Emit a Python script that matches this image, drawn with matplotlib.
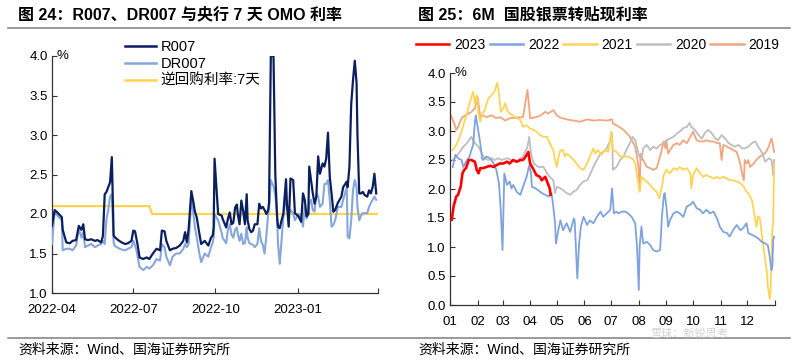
import matplotlib
matplotlib.use("Agg")
import matplotlib.pyplot as plt
from matplotlib.lines import Line2D
import pandas as pd

plt.rcParams['font.family'] = ['Liberation Sans', 'Noto Sans CJK SC', 'DejaVu Sans']
plt.rcParams['axes.unicode_minus'] = False

# ---------------- Left chart data: R007, DR007, 7-day OMO ----------------
left_dates = [
    "2022-04-01", "2022-04-04", "2022-04-07", "2022-04-12", "2022-04-13", "2022-04-17", "2022-04-21",
    "2022-04-24", "2022-04-28", "2022-05-01", "2022-05-04", "2022-05-06", "2022-05-08", "2022-05-11",
    "2022-05-15", "2022-05-19", "2022-05-22", "2022-05-26", "2022-05-28", "2022-05-30", "2022-06-01",
    "2022-06-03", "2022-06-05", "2022-06-07", "2022-06-09", "2022-06-10", "2022-06-14", "2022-06-18",
    "2022-06-22", "2022-06-25", "2022-06-29", "2022-07-01", "2022-07-03", "2022-07-05", "2022-07-06",
    "2022-07-08", "2022-07-12", "2022-07-16", "2022-07-19", "2022-07-23", "2022-07-27", "2022-07-31",
    "2022-08-02", "2022-08-05", "2022-08-07", "2022-08-11", "2022-08-14", "2022-08-18", "2022-08-22",
    "2022-08-26", "2022-08-28", "2022-08-30", "2022-09-01", "2022-09-04", "2022-09-06", "2022-09-08",
    "2022-09-10", "2022-09-13", "2022-09-15", "2022-09-19", "2022-09-23", "2022-09-26", "2022-09-28",
    "2022-09-29", "2022-09-30", "2022-10-04", "2022-10-08", "2022-10-09", "2022-10-13", "2022-10-15",
    "2022-10-17", "2022-10-19", "2022-10-21", "2022-10-23", "2022-10-25", "2022-10-26", "2022-10-28",
    "2022-10-30", "2022-11-01", "2022-11-03", "2022-11-05", "2022-11-06", "2022-11-08", "2022-11-10",
    "2022-11-12", "2022-11-14", "2022-11-17", "2022-11-19", "2022-11-21", "2022-11-23", "2022-11-25",
    "2022-11-27", "2022-11-29", "2022-11-30", "2022-12-02", "2022-12-05", "2022-12-07", "2022-12-09",
    "2022-12-10", "2022-12-12", "2022-12-14", "2022-12-16", "2022-12-19", "2022-12-20", "2022-12-22",
    "2022-12-24", "2022-12-27", "2022-12-29", "2023-01-02", "2023-01-05", "2023-01-07", "2023-01-09",
    "2023-01-11", "2023-01-13", "2023-01-14", "2023-01-16", "2023-01-18", "2023-01-20", "2023-01-22",
    "2023-01-24", "2023-01-26", "2023-01-29", "2023-01-31", "2023-02-02", "2023-02-04", "2023-02-06",
    "2023-02-08", "2023-02-10", "2023-02-12", "2023-02-15", "2023-02-19", "2023-02-21", "2023-02-25",
    "2023-02-26", "2023-02-28", "2023-03-02", "2023-03-04", "2023-03-06", "2023-03-08", "2023-03-09",
    "2023-03-11", "2023-03-13", "2023-03-15", "2023-03-17", "2023-03-20", "2023-03-22", "2023-03-24",
    "2023-03-26", "2023-03-28", "2023-03-30",
]
r007 = [
    1.85, 2.05, 2.02, 1.96, 1.80, 1.64, 1.63, 1.66, 1.67, 1.85, 1.80, 1.87, 1.68, 1.67,
    1.68, 1.66, 1.67, 1.64, 1.72, 2.25, 2.28, 2.34, 2.40, 2.72, 1.73, 1.71, 1.67, 1.64,
    1.62, 1.63, 1.66, 1.79, 1.78, 1.66, 1.60, 1.45, 1.43, 1.45, 1.43, 1.50, 1.56, 1.54,
    1.79, 1.78, 1.66, 1.54, 1.56, 1.57, 1.60, 1.66, 1.77, 1.64, 1.81, 2.29, 2.17, 2.03,
    1.96, 1.75, 1.62, 1.66, 1.60, 1.70, 1.73, 1.83, 2.70, 2.00, 1.98, 1.94, 1.83, 1.94,
    2.02, 1.87, 1.89, 2.08, 2.12, 2.00, 1.87, 2.17, 2.04, 1.87, 2.25, 1.92, 1.81, 1.77,
    1.79, 1.87, 1.87, 2.13, 2.07, 2.09, 2.05, 2.00, 2.05, 2.14, 4.00, 4.00, 2.51, 1.96,
    1.84, 1.82, 1.92, 2.00, 2.44, 2.13, 1.84, 2.45, 2.43, 2.01, 1.97, 1.90, 2.26, 2.18,
    1.97, 2.00, 2.60, 2.43, 2.26, 2.13, 2.22, 2.73, 2.51, 2.64, 2.60, 2.70, 3.03, 2.47,
    2.26, 2.03, 2.05, 2.14, 2.22, 2.34, 2.41, 2.34, 2.60, 3.39, 3.69, 3.94, 3.66, 3.00,
    2.26, 2.26, 2.28, 2.24, 2.22, 2.30, 2.26, 2.34, 2.51, 2.26,
]
dr007 = [
    1.62, 2.04, 1.98, 1.92, 1.54, 1.56, 1.56, 1.54, 1.60, 1.81, 1.70, 1.77, 1.58, 1.60,
    1.62, 1.58, 1.60, 1.62, 1.66, 1.62, 1.94, 2.05, 2.22, 2.25, 1.64, 1.60, 1.57, 1.55,
    1.54, 1.56, 1.58, 1.66, 1.60, 1.52, 1.45, 1.33, 1.29, 1.33, 1.31, 1.35, 1.43, 1.41,
    1.62, 1.58, 1.46, 1.35, 1.46, 1.50, 1.50, 1.56, 1.62, 1.58, 1.62, 2.21, 2.04, 1.83,
    1.71, 1.50, 1.39, 1.50, 1.46, 1.58, 1.64, 1.70, 2.00, 1.92, 1.76, 1.70, 1.63, 1.80,
    1.87, 1.74, 1.70, 1.80, 1.83, 1.75, 1.66, 1.75, 1.62, 1.63, 1.83, 1.70, 1.63, 1.62,
    1.61, 1.58, 1.62, 1.82, 1.66, 1.61, 1.50, 1.72, 2.00, 2.05, 2.43, 2.35, 2.23, 2.00,
    1.63, 1.37, 1.67, 1.96, 2.22, 2.10, 2.01, 2.05, 2.01, 1.92, 2.00, 1.96, 1.84, 2.09,
    1.94, 2.00, 2.13, 2.18, 2.05, 2.03, 2.26, 2.22, 2.09, 2.13, 2.38, 2.38, 2.43, 2.18,
    1.84, 1.86, 1.92, 2.09, 2.09, 2.18, 2.34, 1.71, 1.69, 1.92, 2.30, 2.43, 2.34, 2.09,
    1.92, 1.98, 2.01, 2.01, 2.01, 2.09, 2.14, 2.18, 2.22, 2.18,
]
omo_dates = ["2022-04-01", "2022-07-19", "2022-07-22", "2023-03-31"]
omo_rate = [2.10, 2.10, 2.00, 2.00]
left_ticks = ["2022-04-01", "2022-07-01", "2022-10-01", "2023-01-01", "2023-04-01"]
left_ticklabels = ["2022-04", "2022-07", "2022-10", "2023-01", ""]

# ---------------- Right chart data: 6M bill rediscount rate by year ----------------
# x = day of year (0 = Jan 1)
d2019 = [0, 4, 7, 9, 13, 17, 21, 24, 28, 31, 34, 37, 41, 47, 52, 56, 62, 67, 75, 82, 87, 90, 94,
         101, 107, 110, 116, 120, 124, 131, 139, 146, 154, 161, 168, 176, 182, 183, 187, 195, 202,
         208, 210, 212, 213, 214, 217, 221, 225, 228, 232, 236, 240, 242, 243, 245, 247, 251, 255,
         258, 262, 266, 270, 273, 277, 281, 285, 288, 292, 296, 300, 303, 305, 307, 311, 315, 318,
         322, 326, 328, 330, 331, 333, 335, 337, 341, 344, 348, 352, 355, 358, 361, 362, 364]
v2019 = [3.30, 3.16, 3.02, 3.07, 3.22, 3.27, 3.30, 3.33, 3.39, 3.59, 3.24, 3.27, 3.24, 3.27, 3.22,
         3.24, 3.18, 3.22, 3.23, 3.24, 3.71, 3.22, 3.23, 3.26, 3.33, 3.30, 3.36, 3.27, 3.23, 3.20,
         3.18, 3.16, 3.20, 3.18, 3.19, 3.18, 3.20, 3.13, 3.10, 3.02, 2.90, 2.73, 2.56, 2.33, 1.98,
         2.61, 2.50, 2.38, 2.36, 2.33, 2.36, 2.56, 2.82, 2.70, 2.84, 2.61, 2.67, 2.76, 2.79, 2.76,
         2.84, 2.79, 2.90, 2.99, 2.84, 2.82, 2.82, 2.84, 2.82, 2.82, 2.79, 2.79, 2.50, 2.76, 2.73,
         2.70, 2.67, 2.64, 2.44, 2.27, 2.15, 2.50, 2.44, 2.50, 2.38, 2.44, 2.50, 2.56, 2.59, 2.64,
         2.73, 2.87, 2.82, 2.64]

d2020 = [3, 7, 11, 15, 19, 24, 28, 32, 36, 39, 43, 47, 50, 54, 58, 64, 69, 73, 77, 82, 87, 89, 91,
         94, 99, 105, 109, 112, 116, 118, 120, 124, 127, 131, 135, 139, 142, 146, 150, 154, 157, 161,
         165, 169, 172, 176, 180, 182, 183, 187, 191, 195, 198, 202, 205, 208, 212, 215, 217, 221,
         225, 228, 232, 236, 240, 243, 247, 251, 255, 258, 262, 266, 269, 271, 275, 279, 283, 286,
         290, 294, 298, 301, 305, 309, 313, 316, 320, 324, 328, 331, 335, 339, 343, 346, 350, 354,
         358, 361, 362, 363, 364]
v2020 = [2.50, 2.56, 2.64, 2.73, 2.79, 2.90, 2.79, 2.73, 2.61, 2.53, 2.50, 2.53, 2.50, 2.53, 2.50,
         2.53, 2.50, 2.47, 2.50, 2.56, 2.73, 2.90, 2.61, 2.44, 2.38, 2.38, 2.27, 2.21, 2.15, 1.93,
         2.04, 2.01, 1.98, 1.93, 1.90, 1.96, 1.98, 2.07, 2.13, 2.15, 2.24, 2.38, 2.50, 2.61, 2.64,
         2.70, 2.84, 2.96, 2.33, 2.38, 2.50, 2.56, 2.67, 2.79, 2.90, 2.84, 2.59, 2.50, 2.70, 2.76,
         2.67, 2.73, 2.70, 2.76, 2.79, 2.84, 2.87, 2.90, 2.96, 2.99, 3.05, 3.07, 3.14, 3.07, 3.02,
         2.93, 2.87, 2.96, 3.02, 2.96, 2.87, 2.84, 2.93, 2.87, 2.79, 2.76, 2.73, 2.76, 2.70, 2.70,
         2.73, 2.79, 2.82, 2.73, 2.64, 2.47, 2.53, 2.50, 2.40, 2.24, 2.50]

d2021 = [3, 7, 11, 15, 19, 22, 26, 28, 30, 32, 34, 36, 39, 43, 47, 50, 53, 55, 57, 60, 62, 64, 67,
         71, 75, 79, 82, 86, 90, 94, 97, 101, 105, 109, 112, 116, 118, 120, 122, 124, 127, 129, 131,
         135, 139, 142, 146, 150, 154, 157, 161, 163, 166, 170, 174, 178, 181, 183, 187, 191, 193,
         197, 200, 204, 206, 208, 210, 213, 215, 219, 223, 226, 232, 235, 238, 240, 243, 247, 251,
         255, 258, 262, 266, 270, 271, 273, 277, 281, 284, 288, 292, 296, 300, 303, 307, 311, 315,
         318, 322, 326, 330, 333, 335, 339, 341, 343, 344, 346, 348, 350, 352, 354, 356, 357, 359,
         360, 361, 362, 363, 364]
v2021 = [2.67, 2.76, 2.90, 3.10, 3.30, 3.48, 3.68, 3.48, 3.62, 3.30, 3.16, 3.30, 3.36, 3.56, 3.62,
         3.68, 3.83, 3.65, 3.33, 3.39, 3.48, 3.36, 3.30, 3.27, 3.22, 3.19, 3.07, 3.10, 3.04, 3.02,
         2.99, 2.93, 2.90, 2.90, 2.79, 2.67, 2.50, 2.38, 2.56, 2.67, 2.67, 2.56, 2.61, 2.56, 2.50,
         2.44, 2.36, 2.33, 2.44, 2.56, 2.70, 2.61, 2.67, 2.59, 2.67, 2.64, 2.99, 2.67, 2.64, 2.56,
         2.56, 2.56, 2.56, 2.53, 2.50, 2.44, 2.24, 1.95, 2.21, 2.15, 2.10, 2.04, 1.95, 1.84, 2.04,
         2.24, 2.33, 2.27, 2.36, 2.33, 2.38, 2.33, 2.36, 2.27, 2.01, 2.24, 2.36, 2.27, 2.21, 2.24,
         2.21, 2.18, 2.21, 2.18, 2.21, 2.18, 2.15, 2.15, 2.13, 2.10, 2.04, 1.95, 1.93, 1.81, 1.64,
         1.46, 1.35, 1.53, 1.50, 1.24, 1.00, 0.78, 0.55, 0.32, 0.11, 0.20, 0.78, 1.29, 1.46, 2.44]

d2022 = [3, 6, 9, 13, 15, 18, 22, 24, 26, 28, 29, 31, 34, 36, 37, 41, 45, 49, 52, 55, 57, 59, 61,
         64, 67, 69, 71, 75, 79, 82, 86, 89, 91, 92, 96, 99, 103, 107, 111, 114, 116, 118, 119, 122,
         124, 127, 131, 135, 139, 140, 141, 143, 145, 147, 150, 154, 157, 161, 165, 169, 172, 176,
         180, 182, 184, 187, 189, 193, 197, 200, 204, 208, 210, 212, 213, 215, 217, 221, 225, 228,
         232, 236, 238, 240, 241, 243, 245, 247, 251, 255, 258, 262, 266, 270, 273, 277, 281, 284,
         288, 292, 296, 300, 303, 307, 311, 314, 318, 322, 326, 329, 333, 335, 339, 343, 346, 350,
         354, 357, 359, 361, 362, 363, 364]
v2022 = [2.38, 2.59, 2.53, 2.50, 2.38, 2.47, 2.56, 2.67, 2.76, 3.16, 3.27, 3.07, 2.79, 2.53, 2.50,
         2.56, 2.53, 2.44, 2.33, 2.10, 1.64, 0.95, 2.27, 2.07, 2.13, 2.01, 2.07, 1.95, 1.90, 2.04,
         2.21, 2.41, 2.27, 2.04, 2.01, 1.98, 1.93, 1.90, 1.87, 1.93, 1.70, 1.41, 1.06, 1.32, 1.46,
         1.29, 1.41, 1.26, 1.49, 1.46, 1.12, 0.46, 1.06, 1.35, 1.52, 1.38, 1.46, 1.41, 1.52, 1.61,
         1.52, 1.58, 1.64, 2.01, 1.58, 1.61, 1.58, 1.61, 1.61, 1.58, 1.52, 1.41, 1.01, 0.26, 1.01,
         1.35, 1.06, 1.09, 1.03, 0.95, 0.92, 0.95, 1.52, 1.87, 1.93, 1.70, 1.35, 1.46, 1.58, 1.61,
         1.58, 1.52, 1.70, 1.73, 1.78, 1.67, 1.64, 1.58, 1.64, 1.58, 1.61, 1.49, 1.35, 1.26, 1.24,
         1.18, 1.29, 1.38, 1.29, 1.32, 1.41, 1.24, 1.21, 1.18, 1.15, 1.09, 1.06, 1.03, 0.84, 0.60,
         0.66, 1.12, 1.18]

d2023 = [2, 4, 7, 9, 12, 14, 16, 18, 21, 24, 28, 30, 32, 34, 37, 41, 45, 49, 52, 56, 60, 64, 67,
         71, 75, 79, 82, 85, 88, 90, 94, 97, 101, 103, 107, 109, 112, 113]
v2023 = [1.47, 1.70, 1.87, 1.90, 2.04, 2.27, 2.33, 2.36, 2.50, 2.50, 2.47, 2.33, 2.27, 2.36, 2.36,
         2.38, 2.40, 2.38, 2.41, 2.44, 2.44, 2.47, 2.44, 2.50, 2.47, 2.50, 2.50, 2.56, 2.64, 2.44,
         2.33, 2.24, 2.21, 2.15, 2.21, 2.13, 2.01, 1.90]

month_starts = [0, 31, 59, 90, 120, 151, 181, 212, 243, 273, 304, 334, 365]
month_labels = ["01", "02", "03", "04", "05", "06", "07", "08", "09", "10", "11", "12", ""]

# ---------------- Styling ----------------
C_R007 = "#0B1F5E"
C_DR007 = "#86A6DC"
C_OMO = "#FFD24F"
C_2023 = "#FF0000"
C_2022 = "#7EA3DE"
C_2021 = "#FFD456"
C_2020 = "#BEBEBE"
C_2019 = "#F3A57D"

W, H = 800, 360
fig = plt.figure(figsize=(8, 3.6), dpi=100)


def fx(px):
    return px / W


def fy(py):
    return 1 - py / H


def style_axes(ax):
    for s in ("top", "right"):
        ax.spines[s].set_visible(False)
    for s in ("left", "bottom"):
        ax.spines[s].set_color("#333333")
        ax.spines[s].set_linewidth(0.9)
    ax.tick_params(direction="in", length=3.5, width=0.8, colors="#333333",
                   labelsize=9.5, labelcolor="black")
    ax.set_facecolor("white")


# ---------------- Left chart ----------------
axL = fig.add_axes([fx(52), fy(293), fx(378 - 52), (293 - 56) / H])
style_axes(axL)
ld = pd.to_datetime(left_dates)
axL.plot(pd.to_datetime(omo_dates), omo_rate, color=C_OMO, lw=1.6, zorder=2)
axL.plot(ld, dr007, color=C_DR007, lw=1.5, zorder=3)
axL.plot(ld, r007, color=C_R007, lw=1.6, zorder=4)
axL.set_ylim(1.0, 4.0)
axL.set_yticks([1.0, 1.5, 2.0, 2.5, 3.0, 3.5, 4.0])
axL.set_yticklabels(["1.0", "1.5", "2.0", "2.5", "3.0", "3.5", "4.0"])
axL.set_xlim(pd.Timestamp("2022-04-01"), pd.Timestamp("2023-04-01"))
axL.set_xticks(pd.to_datetime(left_ticks))
axL.set_xticklabels(left_ticklabels)
axL.tick_params(axis="x", pad=8)
axL.tick_params(axis="y", pad=3)
axL.text(0.014, 1.0, "%", transform=axL.transAxes, ha="left", va="center", fontsize=9.5)

hL = [Line2D([0], [0], color=C_R007, lw=1.8),
      Line2D([0], [0], color=C_DR007, lw=1.8),
      Line2D([0], [0], color=C_OMO, lw=1.8)]
fig.legend(hL, ["R007", "DR007", "逆回购利率:7天"], loc="upper left",
           bbox_to_anchor=(fx(125), fy(40)), frameon=False, fontsize=10.5,
           handlelength=2.1, handletextpad=0.35, labelspacing=0.2,
           borderaxespad=0, borderpad=0)

# ---------------- Right chart ----------------
axR = fig.add_axes([fx(450), fy(305), fx(775 - 450), (305 - 73) / H])
style_axes(axR)
axR.plot(d2019, v2019, color=C_2019, lw=1.3, zorder=2)
axR.plot(d2020, v2020, color=C_2020, lw=1.3, zorder=3)
axR.plot(d2021, v2021, color=C_2021, lw=1.3, zorder=4)
axR.plot(d2022, v2022, color=C_2022, lw=1.3, zorder=5)
axR.plot(d2023, v2023, color=C_2023, lw=1.9, zorder=6)
axR.set_ylim(0.0, 4.0)
axR.set_yticks([0.0, 0.5, 1.0, 1.5, 2.0, 2.5, 3.0, 3.5, 4.0])
axR.set_yticklabels(["0.0", "0.5", "1.0", "1.5", "2.0", "2.5", "3.0", "3.5", "4.0"])
axR.set_xlim(0, 365)
axR.set_xticks(month_starts)
axR.set_xticklabels(month_labels)
axR.tick_params(axis="x", pad=8)
axR.tick_params(axis="y", pad=3)
axR.text(0.014, 1.0, "%", transform=axR.transAxes, ha="left", va="center", fontsize=9.5)

hR = [Line2D([0], [0], color=c, lw=1.8) for c in (C_2023, C_2022, C_2021, C_2020, C_2019)]
fig.legend(hR, ["2023", "2022", "2021", "2020", "2019"], loc="center left",
           bbox_to_anchor=(fx(416), fy(45)), frameon=False, fontsize=10, ncol=5,
           handlelength=2.4, handletextpad=0.35, columnspacing=0.3,
           borderaxespad=0, borderpad=0)

# ---------------- Titles, rules, footers ----------------
fig.text(fx(18), fy(15), "图 24：R007、DR007 与央行 7 天 OMO 利率", ha="left", va="center",
         fontsize=11.5, fontweight="bold")
fig.text(fx(418), fy(15), "图 25：6M  国股银票转贴现利率", ha="left", va="center",
         fontsize=11.5, fontweight="bold")
fig.add_artist(Line2D([fx(8), fx(790)], [fy(28), fy(28)], color="#7F7F7F", lw=1.1))
fig.add_artist(Line2D([fx(8), fx(790)], [fy(338), fy(338)], color="#7F7F7F", lw=1.1))
fig.text(fx(18), fy(350), "资料来源：Wind、国海证券研究所", ha="left", va="center", fontsize=10)
fig.text(fx(418), fy(350), "资料来源：Wind、国海证券研究所", ha="left", va="center", fontsize=10)
fig.text(fx(650), fy(334), "雪球：新锐思考", ha="left", va="center", fontsize=8,
         color="#C8C8C8", alpha=0.8)

fig.savefig("out.png", dpi=100, facecolor="white")
